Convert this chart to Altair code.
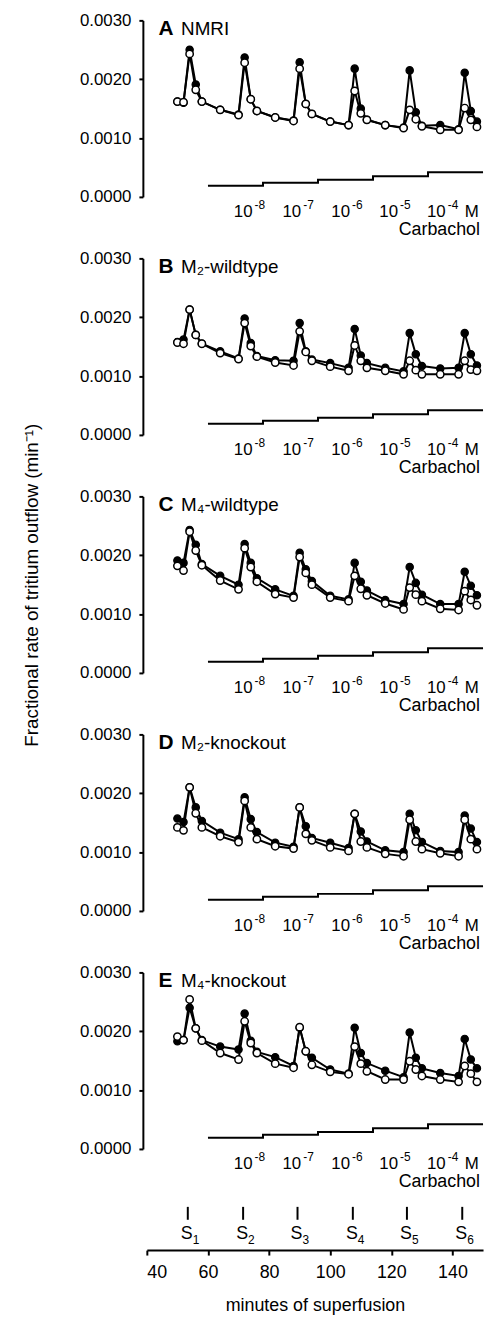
import altair as alt
import pandas as pd

# ---------------- data ----------------
minutes = [50, 52, 54, 56, 58, 64, 70, 72, 74, 76, 82, 88, 90, 92, 94, 100,
           106, 108, 110, 112, 118, 124, 126, 128, 130, 136, 142, 144, 146, 148]

panel_letters = ["A", "B", "C", "D", "E"]
panel_names = ["NMRI", "M\u2082-wildtype", "M\u2084-wildtype", "M\u2082-knockout", "M\u2084-knockout"]

open_A = [0.00162, 0.00161, 0.00243, 0.00182, 0.00162, 0.00148, 0.00139, 0.00228, 0.00166, 0.00146,
          0.00135, 0.00129, 0.00218, 0.00158, 0.00141, 0.00128, 0.00122, 0.00180, 0.00142, 0.00131,
          0.00122, 0.00117, 0.00148, 0.00132, 0.00120, 0.00114, 0.00114, 0.00151, 0.00131, 0.00119]
filled_A = [0.00162, 0.00160, 0.00250, 0.00191, 0.00162, 0.00148, 0.00140, 0.00237, 0.00166, 0.00146,
            0.00135, 0.00130, 0.00229, 0.00158, 0.00141, 0.00128, 0.00122, 0.00218, 0.00150, 0.00131,
            0.00122, 0.00118, 0.00215, 0.00144, 0.00121, 0.00122, 0.00115, 0.00211, 0.00146, 0.00128]

open_B = [0.00157, 0.00155, 0.00213, 0.00170, 0.00155, 0.00139, 0.00129, 0.00190, 0.00151, 0.00133,
          0.00123, 0.00118, 0.00176, 0.00141, 0.00126, 0.00116, 0.00109, 0.00152, 0.00126, 0.00114,
          0.00109, 0.00103, 0.00126, 0.00110, 0.00103, 0.00103, 0.00103, 0.00126, 0.00111, 0.00109]
filled_B = [0.00158, 0.00162, 0.00213, 0.00170, 0.00155, 0.00142, 0.00130, 0.00198, 0.00156, 0.00134,
            0.00127, 0.00126, 0.00190, 0.00142, 0.00128, 0.00122, 0.00114, 0.00180, 0.00135, 0.00122,
            0.00114, 0.00108, 0.00173, 0.00137, 0.00117, 0.00113, 0.00114, 0.00173, 0.00137, 0.00118]

open_C = [0.00182, 0.00174, 0.00240, 0.00208, 0.00183, 0.00157, 0.00142, 0.00212, 0.00180, 0.00155,
          0.00134, 0.00128, 0.00197, 0.00170, 0.00150, 0.00128, 0.00122, 0.00165, 0.00143, 0.00132,
          0.00118, 0.00108, 0.00145, 0.00133, 0.00122, 0.00109, 0.00107, 0.00139, 0.00124, 0.00115]
filled_C = [0.00191, 0.00187, 0.00243, 0.00218, 0.00185, 0.00165, 0.00150, 0.00219, 0.00187, 0.00161,
            0.00142, 0.00131, 0.00204, 0.00176, 0.00156, 0.00131, 0.00125, 0.00187, 0.00155, 0.00140,
            0.00124, 0.00117, 0.00180, 0.00153, 0.00133, 0.00117, 0.00117, 0.00172, 0.00148, 0.00132]

open_D = [0.00142, 0.00137, 0.00210, 0.00166, 0.00142, 0.00127, 0.00117, 0.00187, 0.00142, 0.00122,
          0.00110, 0.00106, 0.00176, 0.00131, 0.00120, 0.00108, 0.00102, 0.00165, 0.00118, 0.00108,
          0.00097, 0.00093, 0.00155, 0.00118, 0.00105, 0.00098, 0.00093, 0.00155, 0.00122, 0.00105]
filled_D = [0.00157, 0.00151, 0.00210, 0.00176, 0.00153, 0.00133, 0.00122, 0.00193, 0.00156, 0.00134,
            0.00116, 0.00109, 0.00176, 0.00144, 0.00124, 0.00116, 0.00107, 0.00165, 0.00135, 0.00118,
            0.00103, 0.00100, 0.00165, 0.00137, 0.00117, 0.00102, 0.00100, 0.00162, 0.00140, 0.00117]

open_E = [0.00191, 0.00185, 0.00254, 0.00205, 0.00184, 0.00163, 0.00152, 0.00217, 0.00180, 0.00163,
          0.00145, 0.00138, 0.00207, 0.00166, 0.00143, 0.00131, 0.00127, 0.00174, 0.00145, 0.00132,
          0.00118, 0.00118, 0.00149, 0.00135, 0.00124, 0.00118, 0.00114, 0.00141, 0.00128, 0.00114]
filled_E = [0.00183, 0.00185, 0.00240, 0.00205, 0.00185, 0.00174, 0.00169, 0.00230, 0.00184, 0.00165,
            0.00156, 0.00141, 0.00206, 0.00166, 0.00155, 0.00135, 0.00128, 0.00206, 0.00163, 0.00146,
            0.00133, 0.00122, 0.00198, 0.00155, 0.00137, 0.00129, 0.00124, 0.00187, 0.00152, 0.00137]

open_series = [open_A, open_B, open_C, open_D, open_E]
filled_series = [filled_A, filled_B, filled_C, filled_D, filled_E]

carbachol_step_min = [60, 78, 96, 114, 132, 150]
carbachol_level = [0.00019, 0.00024, 0.00029, 0.00035, 0.00042, 0.00042]
conc_exponents = ["-8", "-7", "-6", "-5", "-4"]
conc_label_min = [74.6, 90.5, 106.5, 122.2, 137.8]

stim_min = [53.4, 71.5, 89.3, 107.4, 125.1, 143.2]
stim_index = ["1", "2", "3", "4", "5", "6"]

x_ticks = [40, 60, 80, 100, 120, 140]
y_ticks = [0.0, 0.001, 0.002, 0.003]

# ---------------- layout constants ----------------
FONT = "Liberation Sans"
PW, PH = 339, 178
X_DOMAIN = [40, 150]
Y_DOMAIN = [0, 0.003]
LETTER_X, NAME_X, TITLE_Y = 43.8, 51.2, 0.00275
CONC_Y, SUP_Y, CARB_Y = -0.000337, -0.000205, -0.000645
M_X, CARB_X = 144.0, 149.0

X = alt.X("minute:Q", scale=alt.Scale(domain=X_DOMAIN, nice=False, zero=False), axis=None)


def y_enc(title):
    return alt.Y(
        "rate:Q",
        scale=alt.Scale(domain=Y_DOMAIN, nice=False),
        axis=alt.Axis(values=y_ticks, format=".4f", title=title, offset=4, tickSize=4,
                      labelPadding=8, labelFontSize=17, titleFontSize=19,
                      titleFontWeight="normal", titlePadding=38, domainWidth=2,
                      tickWidth=2, grid=False, domainColor="black", tickColor="black",
                      labelColor="black", titleColor="black", labelFont=FONT, titleFont=FONT),
    )


def panel(i):
    title = "Fractional rate of tritium outflow (min\u207b\u00b9)" if i == 2 else ""
    Y = y_enc(title)
    d_open = pd.DataFrame({"minute": minutes, "rate": open_series[i]})
    d_fill = pd.DataFrame({"minute": minutes, "rate": filled_series[i]})
    d_stair = pd.DataFrame({"minute": carbachol_step_min, "rate": carbachol_level})
    d_letter = pd.DataFrame({"minute": [LETTER_X], "rate": [TITLE_Y], "label": [panel_letters[i]]})
    d_name = pd.DataFrame({"minute": [NAME_X], "rate": [TITLE_Y], "label": [panel_names[i]]})
    d_ten = pd.DataFrame({"minute": conc_label_min, "rate": [CONC_Y] * 5, "label": ["10"] * 5})
    d_sup = pd.DataFrame({"minute": conc_label_min, "rate": [SUP_Y] * 5, "label": conc_exponents})
    d_m = pd.DataFrame({"minute": [M_X], "rate": [CONC_Y], "label": ["M"]})
    d_carb = pd.DataFrame({"minute": [CARB_X], "rate": [CARB_Y], "label": ["Carbachol"]})

    stair = alt.Chart(d_stair).mark_line(interpolate="step-after", color="black",
                                         strokeWidth=2).encode(x=X, y=Y)
    line_f = alt.Chart(d_fill).mark_line(color="black", strokeWidth=2).encode(x=X, y=Y)
    pts_f = alt.Chart(d_fill).mark_point(shape="circle", filled=True, fill="black", stroke="black",
                                         strokeWidth=1.2, size=55, opacity=1).encode(x=X, y=Y)
    line_o = alt.Chart(d_open).mark_line(color="black", strokeWidth=2).encode(x=X, y=Y)
    pts_o = alt.Chart(d_open).mark_point(shape="circle", filled=True, fill="white", stroke="black",
                                         strokeWidth=1.5, size=55, opacity=1).encode(x=X, y=Y)
    letter = alt.Chart(d_letter).mark_text(align="left", baseline="alphabetic", fontSize=21,
                                           fontWeight="bold", font=FONT, color="black").encode(
        x=X, y=Y, text="label:N")
    name = alt.Chart(d_name).mark_text(align="left", baseline="alphabetic", fontSize=19,
                                       font=FONT, color="black").encode(x=X, y=Y, text="label:N")
    ten = alt.Chart(d_ten).mark_text(align="right", baseline="alphabetic", fontSize=17,
                                     font=FONT, color="black").encode(x=X, y=Y, text="label:N")
    sup = alt.Chart(d_sup).mark_text(align="left", baseline="alphabetic", fontSize=12, dx=2,
                                     font=FONT, color="black").encode(x=X, y=Y, text="label:N")
    mm = alt.Chart(d_m).mark_text(align="left", baseline="alphabetic", fontSize=17,
                                  font=FONT, color="black").encode(x=X, y=Y, text="label:N")
    carb = alt.Chart(d_carb).mark_text(align="right", baseline="alphabetic", fontSize=18,
                                       font=FONT, color="black").encode(x=X, y=Y, text="label:N")
    return alt.layer(stair, line_f, pts_f, line_o, pts_o, letter, name, ten, sup, mm, carb).properties(
        width=PW, height=PH)


# bottom panel: stimulation markers and x axis
XB = alt.X("minute:Q", scale=alt.Scale(domain=X_DOMAIN, nice=False, zero=False),
           axis=alt.Axis(values=x_ticks, format="d", title="minutes of superfusion",
                         tickSize=5, tickWidth=2, domainWidth=2, labelFontSize=18,
                         titleFontSize=18, titleFontWeight="normal", labelPadding=9,
                         titlePadding=15, grid=False, domainColor="black", tickColor="black",
                         labelColor="black", titleColor="black", labelFont=FONT, titleFont=FONT))
YS = alt.Scale(domain=[0, 1], nice=False)
d_stim = pd.DataFrame({"minute": stim_min, "label": stim_index})

stim_rule = alt.Chart(d_stim).mark_rule(color="black", strokeWidth=2).encode(
    x=XB, y=alt.YDatum(1.09, scale=YS, axis=None), y2=alt.Y2Datum(0.765))
stim_s = alt.Chart(d_stim).mark_text(text="S", align="center", baseline="alphabetic", fontSize=18,
                                     dx=-1, font=FONT, color="black").encode(
    x=XB, y=alt.YDatum(0.29, scale=YS, axis=None))
stim_sub = alt.Chart(d_stim).mark_text(align="left", baseline="alphabetic", fontSize=12, dx=5,
                                       font=FONT, color="black").encode(
    x=XB, y=alt.YDatum(0.16, scale=YS, axis=None), text="label:N")
bottom = alt.layer(stim_rule, stim_s, stim_sub).properties(width=PW, height=40)

chart = alt.vconcat(*[panel(i) for i in range(5)], bottom, spacing=62, bounds="flush").properties(
    padding={"left": 15, "top": -2, "right": 0, "bottom": 0}
).configure(font=FONT, background="white").configure_view(stroke=None)

chart.save("out.html", embed_options={"renderer": "svg", "actions": False})
